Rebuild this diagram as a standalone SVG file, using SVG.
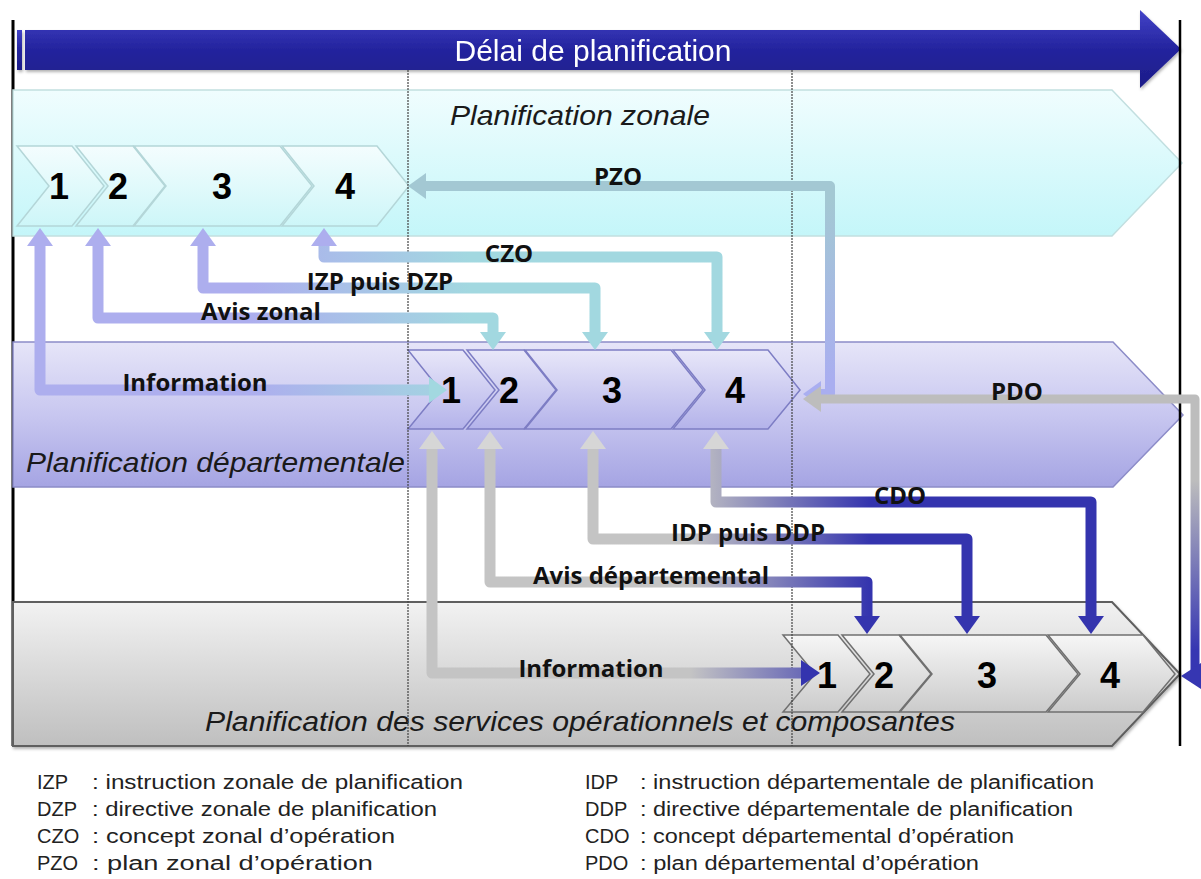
<svg xmlns="http://www.w3.org/2000/svg" width="1201" height="879" viewBox="0 0 1201 879">
<defs>
<linearGradient id="gBar" x1="0" y1="0" x2="0" y2="1"><stop offset="0" stop-color="#4343c8"/><stop offset="0.5" stop-color="#24249e"/><stop offset="1" stop-color="#1c1c88"/></linearGradient>
<linearGradient id="gBand1" x1="0" y1="0" x2="0" y2="1"><stop offset="0" stop-color="#f0fdfe"/><stop offset="1" stop-color="#c4f6f9"/></linearGradient>
<linearGradient id="gBand2" x1="0" y1="0" x2="0" y2="1"><stop offset="0" stop-color="#e6e5f8"/><stop offset="0.5" stop-color="#c8c7f0"/><stop offset="1" stop-color="#a5a4e3"/></linearGradient>
<linearGradient id="gBand3" x1="0" y1="0" x2="0" y2="1"><stop offset="0" stop-color="#f2f2f2"/><stop offset="1" stop-color="#bfbfbf"/></linearGradient>
<linearGradient id="gC1" x1="0" y1="0" x2="0" y2="1"><stop offset="0" stop-color="#f4fdfe"/><stop offset="1" stop-color="#cdf6f8"/></linearGradient>
<linearGradient id="gC2" x1="0" y1="0" x2="0" y2="1"><stop offset="0" stop-color="#e8e7f9"/><stop offset="1" stop-color="#b4b3ea"/></linearGradient>
<linearGradient id="gC3" x1="0" y1="0" x2="0" y2="1"><stop offset="0" stop-color="#f6f6f6"/><stop offset="1" stop-color="#cbcbcb"/></linearGradient>
<linearGradient id="gZ" gradientUnits="userSpaceOnUse" x1="250" y1="0" x2="470" y2="0"><stop offset="0" stop-color="#adaeee"/><stop offset="1" stop-color="#a2d8e0"/></linearGradient>
<linearGradient id="gPZO" gradientUnits="userSpaceOnUse" x1="0" y1="200" x2="0" y2="380"><stop offset="0" stop-color="#a3c8d3"/><stop offset="1" stop-color="#a9aef0"/></linearGradient>
<linearGradient id="gPDO" gradientUnits="userSpaceOnUse" x1="0" y1="480" x2="0" y2="650"><stop offset="0" stop-color="#bdbdbd"/><stop offset="1" stop-color="#3636b2"/></linearGradient>
<linearGradient id="gD" gradientUnits="userSpaceOnUse" x1="690" y1="0" x2="870" y2="0"><stop offset="0" stop-color="#c4c4c4"/><stop offset="1" stop-color="#3434ae"/></linearGradient>
<filter id="sh" x="-5%" y="-10%" width="110%" height="130%"><feDropShadow dx="1" dy="2" stdDeviation="1.5" flood-color="#000" flood-opacity="0.3"/></filter>
</defs>
<style>
.band1{fill:url(#gBand1);stroke:#c2dfe0;stroke-width:1.5}
.band2{fill:url(#gBand2);stroke:#8c8cc8;stroke-width:1.5}
.band3{fill:url(#gBand3);stroke:#5e5e5e;stroke-width:2}
.ch1{fill:url(#gC1);stroke:#b4d6d8;stroke-width:1.5}
.ch2{fill:url(#gC2);stroke:#7d7dc4;stroke-width:1.5}
.ch3{fill:url(#gC3);stroke:#707070;stroke-width:1.5}
.num{font-family:"Liberation Sans",Arial,sans-serif;font-weight:bold;font-size:36px;fill:#000;text-anchor:middle}
.title{font-family:"Liberation Sans",Arial,sans-serif;font-style:italic;font-size:28px;fill:#1a1a1a}
.lbl{font-family:"Open Sans","Liberation Sans",sans-serif;font-weight:bold;font-size:24px;fill:#111;text-anchor:middle}
.leg{font-family:"Liberation Sans",Arial,sans-serif;font-size:20px;fill:#222}
.zc{fill:none;stroke:url(#gZ);stroke-width:11;stroke-linejoin:round}
.dc{fill:none;stroke:url(#gD);stroke-width:11;stroke-linejoin:round}
.vdot{stroke:#444;stroke-width:1.2;stroke-dasharray:2 1}
</style>

<!-- frame -->
<g id="frame">
<line x1="13" y1="20" x2="13" y2="746" stroke="#000" stroke-width="3"/>
</g>

<!-- time banner -->
<g id="banner" filter="url(#sh)">
<rect x="17" y="30" width="5" height="40" fill="url(#gBar)"/>
<path d="M25,30 H1140 V10 L1181,49 L1140,88 V70 H25 Z" fill="url(#gBar)"/>
<text x="593" y="61" text-anchor="middle" font-family="Liberation Sans,Arial,sans-serif" font-size="29" fill="#fff" textLength="277" lengthAdjust="spacingAndGlyphs">Délai de planification</text>
</g>

<!-- bands -->
<g id="band-zonale">
<path class="band1" d="M13,90 H1112 L1182,163 L1112,236 H13 Z"/>
<text class="title" x="450" y="125" textLength="260" lengthAdjust="spacingAndGlyphs">Planification zonale</text>
</g>
<g id="band-departementale">
<path class="band2" d="M13,342 H1113 L1183,415 L1113,487 H13 Z"/>
<text class="title" x="26" y="472" textLength="379" lengthAdjust="spacingAndGlyphs">Planification départementale</text>
</g>
<g id="band-services">
<path class="band3" d="M13,602 H1112 L1180,674 L1112,746 H13 Z" filter="url(#sh)"/>
<text class="title" x="205" y="731" textLength="750" lengthAdjust="spacingAndGlyphs">Planification des services opérationnels et composantes</text>
</g>

<!-- chevrons zonal -->
<g id="z-steps">
<polygon class="ch1" points="17,146 72,146 104,186 72,226 17,226 49,186"/>
<polygon class="ch1" points="76,146 133,146 165,186 133,226 76,226 108,186"/>
<polygon class="ch1" points="134,146 280,146 312,186 280,226 134,226 166,186"/>
<polygon class="ch1" points="282,146 377,146 409,186 377,226 282,226 314,186"/>
<text class="num" x="59" y="199">1</text>
<text class="num" x="118" y="199">2</text>
<text class="num" x="222" y="199">3</text>
<text class="num" x="345" y="199">4</text>
</g>

<!-- chevrons departmental -->
<g id="d-steps">
<polygon class="ch2" points="408,350 463,350 495,390 463,429 408,429 440,390"/>
<polygon class="ch2" points="467,350 524,350 556,390 524,429 467,429 499,390"/>
<polygon class="ch2" points="525,350 671,350 703,390 671,429 525,429 557,390"/>
<polygon class="ch2" points="673,350 768,350 800,390 768,429 673,429 705,390"/>
<text class="num" x="451" y="403">1</text>
<text class="num" x="509" y="403">2</text>
<text class="num" x="612" y="403">3</text>
<text class="num" x="735" y="403">4</text>
</g>

<!-- chevrons services -->
<g id="s-steps">
<polygon class="ch3" points="783,635 838,635 870,674 838,712 783,712 815,674"/>
<polygon class="ch3" points="842,635 899,635 931,674 899,712 842,712 874,674"/>
<polygon class="ch3" points="900,635 1046,635 1078,674 1046,712 900,712 932,674"/>
<polygon class="ch3" points="1048,635 1143,635 1175,674 1143,712 1048,712 1080,674"/>
<text class="num" x="827" y="688">1</text>
<text class="num" x="884" y="688">2</text>
<text class="num" x="987" y="688">3</text>
<text class="num" x="1110" y="688">4</text>
</g>

<!-- guide lines -->
<g id="guides">
<line class="vdot" x1="408" y1="70" x2="408" y2="746"/>
<line class="vdot" x1="792" y1="70" x2="792" y2="746"/>
<line x1="1180" y1="20" x2="1180" y2="746" stroke="#000" stroke-width="2.5"/>
</g>

<!-- connectors -->
<g id="connectors">
<!-- zonal -->
<path class="zc" d="M40,244 V390 H430"/>
<polygon points="40,228 27,246 53,246" fill="#adaeee"/>
<polygon points="447,390 429,377 429,403" fill="#a2d8e0"/>
<path class="zc" d="M98,244 V318 H493 V333"/>
<polygon points="98,228 85,246 111,246" fill="#adaeee"/>
<polygon points="493,350 480,332 506,332" fill="#a2d8e0"/>
<path class="zc" d="M203,244 V288 H595 V333"/>
<polygon points="203,228 190,246 216,246" fill="#adaeee"/>
<polygon points="595,350 582,332 608,332" fill="#a2d8e0"/>
<path class="zc" d="M324,244 V257 H717 V333"/>
<polygon points="324,228 311,246 337,246" fill="#adaeee"/>
<polygon points="717,350 704,332 730,332" fill="#a2d8e0"/>
<!-- PZO -->
<path d="M424,186 H830 V394 H820" fill="none" stroke="url(#gPZO)" stroke-width="10" stroke-linejoin="round"/>
<polygon points="408,186 426,173 426,199" fill="#a3c8d3"/>
<polygon points="803,394 821,381 821,407" fill="#a9aef0"/>
<!-- PDO -->
<path d="M820,399 H1195 V676" fill="none" stroke="url(#gPDO)" stroke-width="9" stroke-linejoin="round"/>
<polygon points="803,399 821,386 821,412" fill="#bdbdbd"/>
<polygon points="1181,676 1201,663 1201,689" fill="#3636b2"/>
<!-- departmental -->
<path class="dc" d="M432,448 V673 H802"/>
<polygon points="432,431 419,449 445,449" fill="#d6d6d6"/>
<polygon points="820,673 801,660 801,686" fill="#3434ae"/>
<path class="dc" d="M490,448 V582 H867 V617"/>
<polygon points="490,431 477,449 503,449" fill="#d6d6d6"/>
<polygon points="867,634 854,616 880,616" fill="#3434ae"/>
<path class="dc" d="M593,448 V539 H967 V617"/>
<polygon points="593,431 580,449 606,449" fill="#d6d6d6"/>
<polygon points="967,634 954,616 980,616" fill="#3434ae"/>
<path class="dc" d="M716,448 V502 H1091 V617"/>
<polygon points="716,431 703,449 729,449" fill="#d6d6d6"/>
<polygon points="1091,634 1078,616 1104,616" fill="#3434ae"/>
</g>

<!-- connector labels -->
<g id="labels">
<text class="lbl" x="618" y="185">PZO</text>
<text class="lbl" x="509" y="262">CZO</text>
<text class="lbl" x="380" y="290">IZP puis DZP</text>
<text class="lbl" x="261" y="320">Avis zonal</text>
<text class="lbl" x="195" y="391">Information</text>
<text class="lbl" x="1017" y="400">PDO</text>
<text class="lbl" x="900" y="504">CDO</text>
<text class="lbl" x="748" y="541">IDP puis DDP</text>
<text class="lbl" x="651" y="584">Avis départemental</text>
<text class="lbl" x="591" y="677">Information</text>
</g>

<!-- legend -->
<g id="legend" class="leg">
<text x="37" y="789">IZP</text><text x="92" y="789" textLength="371" lengthAdjust="spacingAndGlyphs">: instruction zonale de planification</text>
<text x="37" y="816">DZP</text><text x="92" y="816" textLength="345" lengthAdjust="spacingAndGlyphs">: directive zonale de planification</text>
<text x="37" y="843">CZO</text><text x="92" y="843" textLength="303" lengthAdjust="spacingAndGlyphs">: concept zonal d’opération</text>
<text x="37" y="870">PZO</text><text x="92" y="870" textLength="281" lengthAdjust="spacingAndGlyphs">: plan zonal d’opération</text>
<text x="585" y="789">IDP</text><text x="640" y="789" textLength="454" lengthAdjust="spacingAndGlyphs">: instruction départementale de planification</text>
<text x="585" y="816">DDP</text><text x="640" y="816" textLength="433" lengthAdjust="spacingAndGlyphs">: directive départementale de planification</text>
<text x="585" y="843">CDO</text><text x="640" y="843" textLength="374" lengthAdjust="spacingAndGlyphs">: concept départemental d’opération</text>
<text x="585" y="870">PDO</text><text x="640" y="870" textLength="339" lengthAdjust="spacingAndGlyphs">: plan départemental d’opération</text>
</g>
</svg>
